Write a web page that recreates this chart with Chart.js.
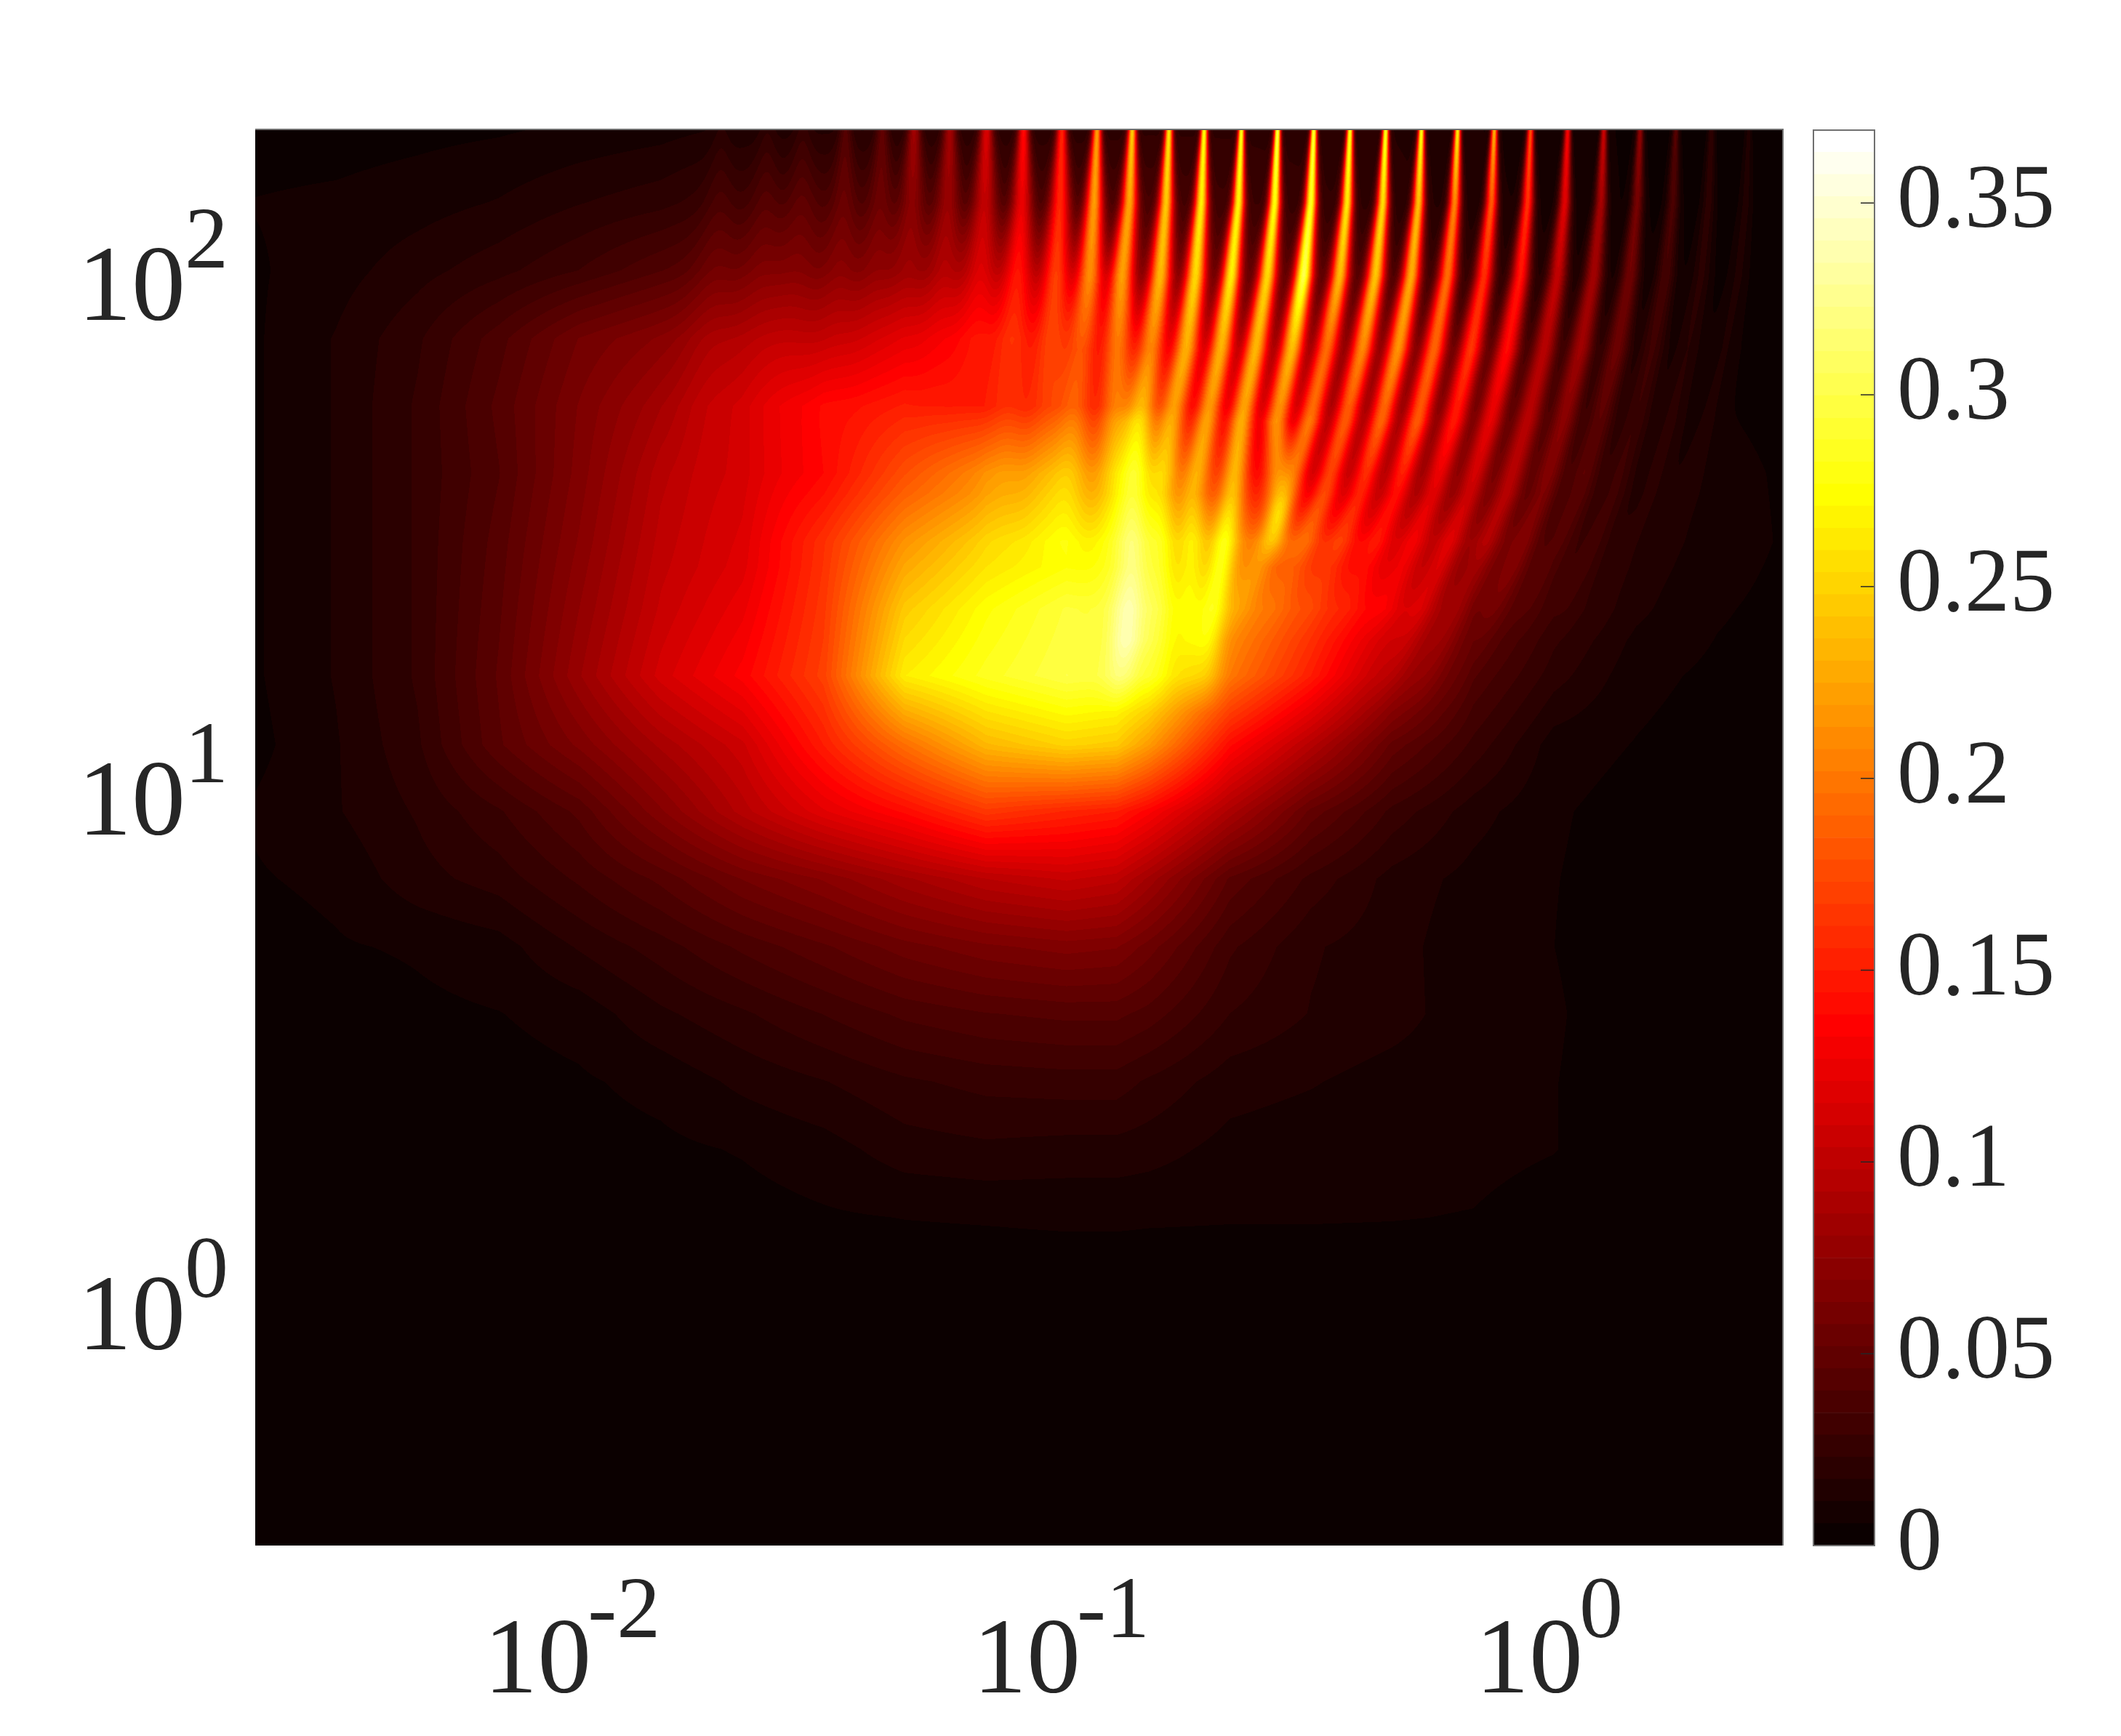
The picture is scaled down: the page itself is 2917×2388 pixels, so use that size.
<!DOCTYPE html>
<html>
<head>
<meta charset="utf-8">
<style>
  html, body { margin: 0; padding: 0; background: #fff; }
  canvas { position: absolute; left: 0; top: 0; }
</style>
<script src="https://cdn.jsdelivr.net/npm/chart.js@4/dist/chart.umd.min.js"></script>
</head>
<body>
<canvas id="fieldChart" width="2917" height="2388"></canvas>
<canvas id="barChart" width="2917" height="2388"></canvas>
<script>
// ================= DATA =================
const xValues = [0.00224,0.00328,0.00481,0.00705,0.0103,0.0151,0.0222,0.0325,0.0476,0.0698,0.102,0.129,0.15,0.22,0.322,0.472,0.692,1.01,1.49,2.18,2.97];
const yValues = [182,131,96.8,71.4,52.8,39.1,28.8,21.3,15.8,11.6,8.61,6.37,4.70,3.48,2.57,1.90,1.40,1.04,0.323];

const fieldRows = [
  [.003,.003,.004,.005,.007,.009,.013,.016,.018,.02,.02,.021,.022,.022,.02,.017,.012,.008,.005,.004,.003],
  [.006,.007,.009,.012,.017,.021,.03,.036,.036,.032,.035,.035,.035,.03,.025,.02,.014,.009,.005,.004,.003],
  [.005,.009,.015,.021,.029,.04,.05,.055,.06,.065,.06,.055,.05,.045,.04,.03,.02,.012,.007,.004,.003],
  [.005,.012,.022,.038,.058,.07,.08,.09,.105,.11,.09,.082,.075,.055,.042,.035,.022,.014,.008,.005,.003],
  [.005,.012,.024,.042,.064,.085,.1,.13,.14,.125,.115,.11,.105,.08,.05,.04,.03,.02,.01,.006,.004],
  [.005,.012,.024,.04,.066,.095,.105,.135,.175,.205,.2,.2,.19,.14,.085,.07,.05,.03,.012,.008,.005],
  [.005,.012,.024,.043,.07,.1,.115,.16,.215,.25,.265,.26,.25,.21,.16,.11,.07,.03,.013,.009,.0052],
  [.005,.012,.024,.045,.075,.105,.125,.165,.245,.275,.295,.29,.28,.22,.17,.12,.055,.028,.012,.0065,.004],
  [.005,.012,.024,.047,.08,.112,.135,.17,.265,.285,.3,.295,.28,.2,.15,.09,.04,.02,.0075,.0045,.003],
  [.004,.011,.022,.045,.065,.088,.108,.15,.195,.235,.25,.245,.22,.14,.095,.05,.027,.0085,.0055,.003,.002],
  [.0065,.011,.018,.028,.042,.068,.095,.12,.14,.165,.155,.15,.135,.09,.05,.027,.014,.0065,.0035,.002,.002],
  [.0052,.0072,.015,.02,.03,.042,.058,.07,.085,.098,.105,.1,.085,.045,.027,.015,.0095,.006,.003,.002,.002],
  [.003,.0052,.0065,.009,.018,.026,.036,.045,.055,.062,.066,.064,.055,.03,.018,.014,.0075,.0058,.002,.002,.002],
  [.002,.002,.0045,.0056,.008,.016,.022,.029,.036,.04,.042,.042,.038,.023,.017,.014,.008,.0065,.002,.002,.002],
  [.002,.002,.002,.0035,.005,.0075,.013,.017,.022,.025,.026,.026,.022,.014,.012,.009,.008,.006,.002,.002,.002],
  [.002,.002,.002,.002,.0035,.0045,.0062,.009,.0145,.016,.015,.015,.014,.0095,.008,.008,.0075,.006,.002,.002,.002],
  [.001,.001,.001,.002,.002,.002,.0035,.005,.0059,.0063,.0068,.0068,.0065,.0062,.0062,.006,.0055,.003,.002,.001,.001],
  [.001,.001,.001,.001,.001,.001,.002,.002,.002,.002,.002,.002,.002,.002,.002,.002,.002,.002,.001,.001,.001],
  [.001,.001,.001,.001,.001,.001,.001,.001,.001,.001,.001,.001,.001,.001,.001,.001,.001,.001,.001,.001,.001]
];

// thin bright ridges at the top of the field
const ridgeHeights = [182,131,94.4,68.1,49.2,35.6,25.7,18.5,13.4];
const ridgeTopLogX = [-1.697,-1.603,-1.530,-1.443,-1.368,-1.303,-1.230,-1.155,-1.079,-1.001,-0.929,-0.857,-0.782,-0.710,-0.634,-0.560,-0.486,-0.412,-0.339,-0.266,-0.192,-0.117,-0.043,0.033,0.107,0.181,0.254,0.327,0.403];
const ridgeWidthScale = [2.5,2.5,2.5,2,2,2,2,2,1.7,1.6,1.4,1.3,1.2,1.1,1,1,1,1,1,1,1,1,1,1,1,1,1,1,1];
const ridgeSigma = [.0046,.0089,.0134,.0178,.0193,.0193,.0193,.0208,.0208];

const shiftLeft = [0,.004,.012,.021,.03,.037,.042,.045,.045];
const shiftRight = [0,.006,.021,.048,.083,.125,.186,.253,.319];
const ridgeShift = [
  shiftLeft,shiftLeft,shiftLeft,
  shiftLeft,shiftLeft,shiftLeft,shiftLeft,shiftLeft,shiftLeft,shiftLeft,
  [0,.006,.015,.03,.045,.059,.067,.074,.074],
  [0,.006,.021,.03,.036,.039,.042,.045,.045],
  [0,.006,.018,.037,.059,.071,.074,.086,.104],
  [0,.006,.018,.037,.067,.089,.092,.095,.098],
  [0,.006,.021,.042,.071,.098,.101,.107,.111],
  [0,.006,.021,.045,.074,.092,.116,.141,.149],
  [0,.006,.021,.045,.076,.077,.077,.079,.08],
  shiftRight,shiftRight,shiftRight,shiftRight,shiftRight,shiftRight,
  shiftRight,shiftRight,shiftRight,shiftRight,shiftRight,shiftRight
];
const ridgeAmp = [
  [.006,.01,.012,.012,.008,.004,0,0,0],
  [.008,.012,.014,.012,.008,.004,0,0,0],
  [.01,.014,.014,.012,.008,.004,0,0,0],
  [.025,.018,.015,.01,.006,0,0,0,0],
  [.03,.02,.015,.01,.006,0,0,0,0],
  [.065,.035,.02,.012,.006,0,0,0,0],
  [.065,.045,.03,.018,.01,0,0,0,0],
  [.095,.07,.05,.03,.015,0,0,0,0],
  [.12,.09,.08,.05,.03,.01,0,0,0],
  [.135,.12,.105,.07,.04,.02,0,0,0],
  [.2,.185,.15,.08,.06,.03,0,0,0],
  [.225,.19,.165,.11,.08,.03,.01,0,0],
  [.24,.21,.185,.125,.12,.07,.05,.05,0],
  [.255,.235,.205,.16,.11,.05,.03,.02,0],
  [.26,.24,.22,.17,.12,.05,.03,.02,0],
  [.28,.25,.21,.18,.14,.08,.06,.04,0],
  [.275,.26,.26,.19,.14,.07,0,0,0],
  [.265,.24,.2,.15,.14,.07,.02,0,0],
  [.27,.235,.21,.17,.13,.07,.01,0,0],
  [.265,.22,.2,.18,.14,.06,.01,0,0],
  [.255,.19,.17,.16,.14,.06,.01,0,0],
  [.22,.17,.14,.14,.11,.05,.02,0,0],
  [.17,.15,.13,.12,.09,.05,.03,.01,0],
  [.125,.11,.09,.08,.07,.05,.02,.01,0],
  [.1,.08,.075,.07,.05,.03,.02,.005,0],
  [.07,.055,.05,.045,.03,.02,.01,0,0],
  [.038,.032,.028,.022,.018,.013,.008,0,0],
  [.018,.016,.014,.011,.01,.007,.005,0,0],
  [.01,.01,.009,.007,.006,.005,.004,0,0]
];

const xTicks = [0.01,0.1,1];
const xTickPowers = ["-2","-1","0"];
const yTicks = [1,10,100];
const yTickPowers = ["0","1","2"];
const barTicks = [0,0.05,0.1,0.15,0.2,0.25,0.3,0.35];
const barTickLabels = ["0","0.05","0.1","0.15","0.2","0.25","0.3","0.35"];

const valueMax = 0.369;
const levelCount = 64;
const textColor = "#262626";
const boxColor = "#707070";

// ================= HOT COLORMAP =================
function hotLevel(i){
    let r = Math.min(1, (i + 1) / 24);
    let g = Math.max(0, Math.min(1, (i + 1 - 24) / 24));
    let b = Math.max(0, Math.min(1, (i + 1 - 48) / 16));
    return [Math.round(r * 255), Math.round(g * 255), Math.round(b * 255)];
}
const hotLevels = [];
for (let i = 0; i < levelCount; i++) hotLevels.push(hotLevel(i));

// ================= FIELD DATASETS =================
const gridPoints = [];
fieldRows.forEach((row, j) => {
    row.forEach((v, i) => gridPoints.push({ x: xValues[i], y: yValues[j], v: v }));
});

const ridgeDatasets = ridgeTopLogX.map((top, k) => ({
    label: "ridge " + k,
    data: ridgeHeights.map((h, n) => ({
        x: Math.pow(10, top - ridgeShift[k][n]),
        y: h,
        amp: ridgeAmp[k][n],
        sigma: ridgeSigma[n] * ridgeWidthScale[k]
    })),
    showLine: false,
    pointRadius: 0
}));

// finds segment and fraction of p inside a sorted list of pixels
function locate(pixels, p){
    let i = 0;
    while (i < pixels.length - 2 && p > pixels[i + 1]) i++;
    let t = (p - pixels[i]) / (pixels[i + 1] - pixels[i]);
    return [i, Math.max(0, Math.min(1, t))];
}

// ================= PAINT THE FIELD THROUGH THE SCALES =================
const fieldPlugin = {
    id: "fieldPlugin",
    beforeDatasetsDraw(chart){
        const area = chart.chartArea;
        const xs = chart.scales.x;
        const ys = chart.scales.y;
        const w = Math.round(area.right - area.left);
        const h = Math.round(area.bottom - area.top);
        const left = Math.round(area.left);
        const top = Math.round(area.top);
        const image = chart.ctx.createImageData(w, h);

        const colPix = xValues.map(v => xs.getPixelForValue(v));
        const rowPix = yValues.map(v => ys.getPixelForValue(v));
        const colSeg = [];
        for (let px = 0; px < w; px++) colSeg.push(locate(colPix, left + px + 0.5));

        const ridges = chart.data.datasets.slice(1).map(ds => {
            const pts = ds.data;
            return {
                py: pts.map(p => ys.getPixelForValue(p.y)),
                px: pts.map(p => xs.getPixelForValue(p.x)),
                amp: pts.map(p => p.amp),
                sig: pts.map(p => xs.getPixelForValue(p.x * Math.pow(10, p.sigma)) - xs.getPixelForValue(p.x))
            };
        });

        const line = new Float32Array(w);
        for (let py = 0; py < h; py++) {
            const yPix = top + py + 0.5;
            const [j, s] = locate(rowPix, yPix);
            for (let px = 0; px < w; px++) {
                const i = colSeg[px][0], t = colSeg[px][1];
                const a = fieldRows[j][i] * (1 - t) + fieldRows[j][i + 1] * t;
                const b = fieldRows[j + 1][i] * (1 - t) + fieldRows[j + 1][i + 1] * t;
                line[px] = a * (1 - s) + b * s;
            }
            ridges.forEach(r => {
                const [n, u] = locate(r.py, yPix);
                const amp = r.amp[n] * (1 - u) + r.amp[n + 1] * u;
                if (amp <= 0) return;
                const c = r.px[n] * (1 - u) + r.px[n + 1] * u - left;
                const sig = r.sig[n] * (1 - u) + r.sig[n + 1] * u;
                const from = Math.max(0, Math.floor(c - 4 * sig));
                const to = Math.min(w - 1, Math.ceil(c + 4 * sig));
                for (let px = from; px <= to; px++) {
                    const d = (px + 0.5 - c) / sig;
                    line[px] += amp * Math.exp(-0.5 * d * d);
                }
            });
            for (let px = 0; px < w; px++) {
                const level = Math.min(levelCount - 1, Math.floor(line[px] / valueMax * levelCount));
                const c = hotLevels[level];
                const o = (py * w + px) * 4;
                image.data[o] = c[0];
                image.data[o + 1] = c[1];
                image.data[o + 2] = c[2];
                image.data[o + 3] = 255;
            }
        }
        chart.ctx.putImageData(image, left, top);
    },
    afterDraw(chart){
        const ctx = chart.ctx;
        const area = chart.chartArea;
        ctx.save();
        ctx.strokeStyle = boxColor;
        ctx.lineWidth = 2;
        ctx.beginPath();
        ctx.moveTo(area.left, area.top);
        ctx.lineTo(area.right, area.top);
        ctx.lineTo(area.right, area.bottom);
        ctx.stroke();
        ctx.fillStyle = textColor;
        ctx.textBaseline = "alphabetic";
        xTicks.forEach((v, n) => {
            const p = chart.scales.x.getPixelForValue(v);
            const pow = xTickPowers[n];
            const start = pow.length > 1 ? p - 123 : p - 105;
            ctx.font = "148px 'Liberation Serif'";
            ctx.fillText("10", start, 2328);
            ctx.font = "120px 'Liberation Serif'";
            ctx.fillText(pow, start + 143, 2252);
        });
        yTicks.forEach((v, n) => {
            const p = chart.scales.y.getPixelForValue(v);
            ctx.font = "148px 'Liberation Serif'";
            ctx.fillText("10", 107, p + 78);
            ctx.font = "120px 'Liberation Serif'";
            ctx.fillText(yTickPowers[n], 254, p + 6);
        });
        ctx.restore();
    }
};

new Chart(document.getElementById("fieldChart"), {
    type: "scatter",
    data: {
        datasets: [
            { label: "field", data: gridPoints, showLine: false, pointRadius: 0 }
        ].concat(ridgeDatasets)
    },
    options: {
        responsive: false,
        animation: false,
        layout: { padding: { left: 351, top: 178, right: 465, bottom: 262 } },
        plugins: { legend: { display: false }, tooltip: { enabled: false } },
        scales: {
            x: { type: "logarithmic", bounds: "data", min: 0.00224, max: 2.97, display: false },
            y: { type: "logarithmic", bounds: "data", min: 0.3225, max: 182, display: false }
        }
    },
    plugins: [fieldPlugin]
});

// ================= COLOUR BAR =================
const barPlugin = {
    id: "barPlugin",
    afterDraw(chart){
        const ctx = chart.ctx;
        const area = chart.chartArea;
        const ys = chart.scales.y;
        ctx.save();
        ctx.strokeStyle = textColor;
        ctx.lineWidth = 1.5;
        barTicks.forEach(v => {
            if (v === 0) return;
            const p = ys.getPixelForValue(v);
            ctx.beginPath();
            ctx.moveTo(area.right - 19, p);
            ctx.lineTo(area.right, p);
            ctx.stroke();
        });
        ctx.strokeStyle = boxColor;
        ctx.lineWidth = 2;
        ctx.strokeRect(area.left, area.top, area.right - area.left, area.bottom - area.top);
        ctx.fillStyle = textColor;
        ctx.font = "124px 'Liberation Serif'";
        ctx.textBaseline = "alphabetic";
        barTicks.forEach((v, n) => {
            ctx.fillText(barTickLabels[n], 2609, ys.getPixelForValue(v) + 33);
        });
        ctx.restore();
    }
};

new Chart(document.getElementById("barChart"), {
    type: "bar",
    data: {
        labels: ["levels"],
        datasets: hotLevels.map((c, i) => ({
            label: "level " + i,
            data: [valueMax / levelCount],
            backgroundColor: "rgb(" + c.join(",") + ")",
            borderWidth: 0,
            barPercentage: 1,
            categoryPercentage: 1
        }))
    },
    options: {
        responsive: false,
        animation: false,
        layout: { padding: { left: 2494, top: 179, right: 339, bottom: 262 } },
        plugins: { legend: { display: false }, tooltip: { enabled: false } },
        scales: {
            x: { stacked: true, display: false },
            y: { stacked: true, min: 0, max: valueMax, display: false }
        }
    },
    plugins: [barPlugin]
});
</script>
</body>
</html>
